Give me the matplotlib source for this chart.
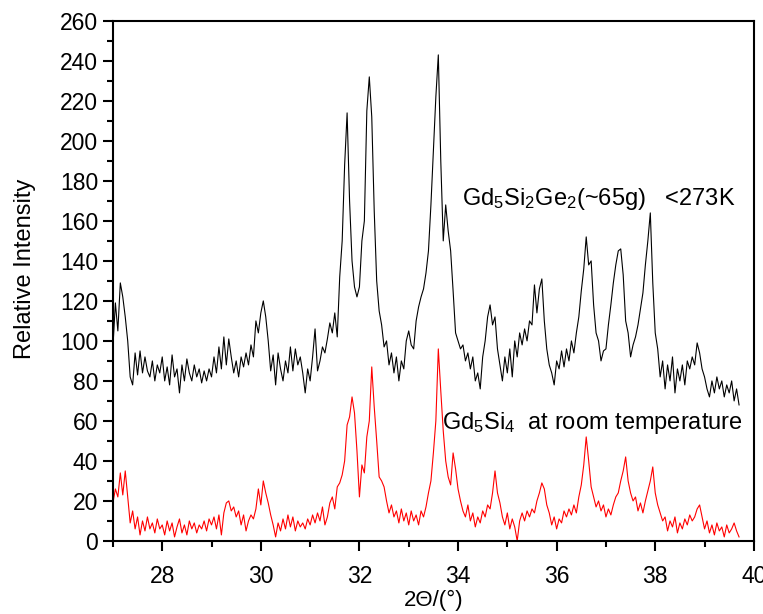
"""
XRD patterns of Gd5Si2Ge2 (<273K) and Gd5Si4 (room temperature).
"""

import matplotlib.pyplot as plt
import numpy as np
from matplotlib.ticker import MultipleLocator

plt.rcParams["font.family"] = ["Liberation Sans", "DejaVu Sans"]
plt.rcParams["mathtext.fontset"] = "custom"
plt.rcParams["mathtext.rm"] = "Liberation Sans"

# 2-theta grid: 27.00 .. 39.70 in 0.05 deg steps
two_theta_start = 27.0
two_theta_step = 0.05

# Gd5Si2Ge2 (~65g) below 273K, one row per half degree
gd5si2ge2 = [
    97, 119, 105, 129, 122, 112, 100, 82, 78, 94,       # 27.0
    83, 95, 84, 92, 85, 82, 90, 80, 88, 84,             # 27.5
    92, 80, 87, 78, 93, 82, 86, 74, 88, 80,             # 28.0
    91, 84, 80, 88, 82, 86, 79, 85, 80, 86,             # 28.5
    82, 92, 84, 97, 86, 102, 88, 101, 92, 84,           # 29.0
    90, 82, 92, 87, 94, 88, 98, 92, 110, 104,           # 29.5
    114, 120, 112, 100, 85, 93, 78, 94, 86, 80,         # 30.0
    90, 84, 97, 85, 96, 88, 92, 84, 74, 86,             # 30.5
    80, 92, 106, 85, 90, 97, 94, 101, 109, 104,         # 31.0
    114, 102, 132, 150, 188, 214, 170, 140, 127, 122,   # 31.5
    127, 150, 160, 215, 232, 212, 165, 130, 115, 108,   # 32.0
    97, 100, 88, 94, 84, 92, 80, 90, 86, 100,           # 32.5
    105, 98, 96, 110, 117, 122, 126, 134, 145, 168,     # 33.0
    195, 222, 243, 190, 150, 168, 155, 145, 125, 104,   # 33.5
    100, 96, 98, 90, 94, 86, 92, 80, 84, 76,            # 34.0
    92, 100, 112, 118, 108, 112, 96, 88, 80, 92,        # 34.5
    84, 96, 82, 100, 92, 104, 98, 106, 100, 110,        # 35.0
    108, 128, 114, 126, 131, 110, 96, 88, 84, 78,       # 35.5
    90, 86, 95, 87, 96, 90, 100, 94, 104, 112,          # 36.0
    125, 136, 152, 138, 140, 118, 104, 100, 90, 95,     # 36.5
    96, 108, 118, 129, 138, 145, 146, 133, 110, 104,    # 37.0
    92, 98, 102, 108, 116, 124, 138, 150, 164, 129,     # 37.5
    104, 96, 82, 90, 76, 88, 80, 92, 74, 86,            # 38.0
    80, 88, 78, 90, 86, 92, 88, 99, 94, 86,             # 38.5
    82, 76, 72, 80, 74, 82, 76, 80, 72, 78,             # 39.0
    74, 80, 70, 76, 68,                                 # 39.5
]

# Gd5Si4 at room temperature
gd5si4 = [
    19, 26, 22, 34, 23, 35, 22, 9, 15, 6,               # 27.0
    12, 3, 10, 5, 12, 6, 9, 4, 11, 6,                   # 27.5
    8, 3, 10, 5, 9, 2, 7, 11, 4, 8,                     # 28.0
    3, 10, 6, 9, 4, 8, 6, 10, 5, 11,                    # 28.5
    8, 12, 6, 13, 3, 14, 19, 20, 15, 17,                # 29.0
    12, 15, 8, 13, 5, 10, 13, 11, 16, 26,               # 29.5
    18, 30, 24, 19, 13, 8, 2, 9, 5, 11,                 # 30.0
    6, 13, 7, 12, 5, 10, 7, 9, 6, 11,                   # 30.5
    8, 13, 9, 14, 10, 17, 8, 12, 19, 22,                # 31.0
    16, 27, 29, 33, 40, 58, 62, 72, 64, 45,             # 31.5
    22, 38, 34, 52, 60, 87, 67, 50, 32, 30,             # 32.0
    27, 20, 14, 18, 12, 15, 9, 16, 10, 14,              # 32.5
    8, 15, 10, 13, 8, 15, 12, 17, 24, 30,               # 33.0
    44, 60, 96, 75, 55, 40, 32, 28, 44, 36,             # 33.5
    26, 20, 15, 12, 18, 10, 14, 7, 12, 9,               # 34.0
    15, 12, 18, 16, 24, 35, 24, 19, 12, 8,              # 34.5
    14, 6, 11, 7, 0, 10, 14, 10, 15, 12,                # 35.0
    16, 14, 20, 24, 29, 26, 18, 14, 8, 12,              # 35.5
    6, 11, 9, 15, 12, 16, 13, 18, 14, 22,               # 36.0
    28, 38, 52, 40, 27, 22, 17, 20, 15, 18,             # 36.5
    12, 16, 13, 18, 22, 24, 30, 35, 42, 30,             # 37.0
    24, 20, 22, 15, 19, 14, 20, 25, 30, 37,             # 37.5
    24, 18, 14, 10, 12, 5, 10, 7, 12, 4,               # 38.0
    9, 6, 11, 8, 13, 10, 12, 16, 18, 12,                # 38.5
    6, 10, 4, 8, 3, 9, 5, 7, 2, 8,                      # 39.0
    4, 6, 9, 5, 2,                                      # 39.5
]

two_theta = two_theta_start + two_theta_step * np.arange(len(gd5si2ge2))

fig = plt.figure(figsize=(7.63, 6.14), dpi=100)
ax = fig.add_axes([0.148, 0.119, 0.840, 0.847])

ax.plot(two_theta, gd5si2ge2, color="black", linewidth=0.8)
ax.plot(two_theta, gd5si4, color="red", linewidth=0.8)

ax.text(34.08, 171, r"Gd$\mathregular{_5}$Si$\mathregular{_2}$Ge$\mathregular{_2}$(~65g)   <273K",
        fontsize=17, va="center", ha="left")
ax.text(33.68, 59, r"Gd$\mathregular{_5}$Si$\mathregular{_4}$  at room temperature",
        fontsize=17, va="center", ha="left")

ax.set_xlim(27, 40)
ax.set_ylim(0, 260)
ax.xaxis.set_major_locator(MultipleLocator(2))
ax.xaxis.set_minor_locator(MultipleLocator(1))
ax.yaxis.set_major_locator(MultipleLocator(20))
ax.yaxis.set_minor_locator(MultipleLocator(10))
ax.tick_params(which="major", direction="out", length=7, width=1.5, labelsize=16.5)
ax.tick_params(axis="x", which="major", pad=10)
ax.tick_params(which="minor", direction="out", length=4, width=1.5)
for spine in ax.spines.values():
    spine.set_linewidth(1.5)

ax.set_xlabel("2Θ/(°)", fontsize=16, labelpad=2)
ax.set_ylabel("Relative Intensity", fontsize=17, labelpad=17)
ax.yaxis.label.set_y(0.524)

plt.savefig("out.png", dpi=100)
plt.close()
